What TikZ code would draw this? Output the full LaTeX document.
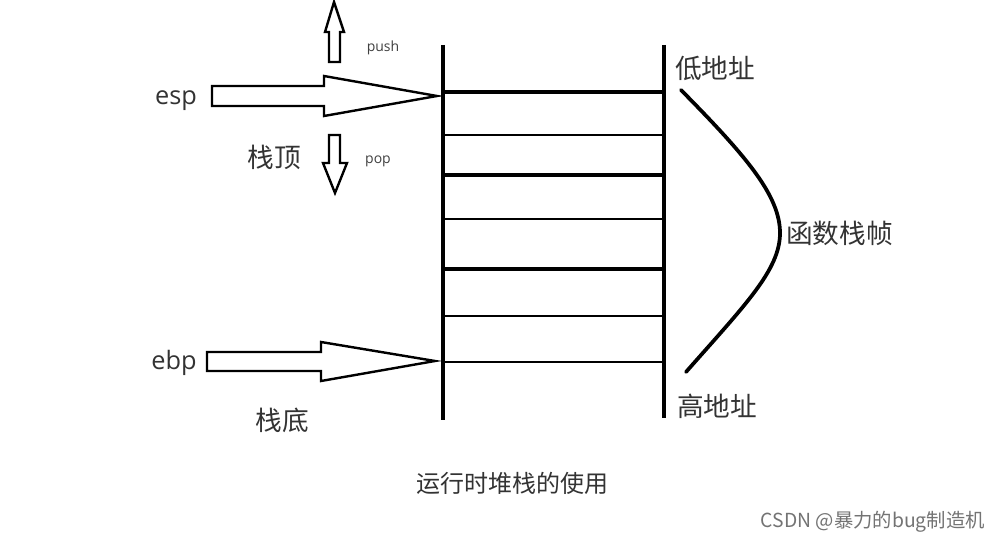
\documentclass[tikz,border=0pt]{standalone}
\usepackage{fontspec}
\setmainfont{Noto Sans CJK SC}
\newfontfamily\latinf{Open Sans}
\begin{document}
\begin{tikzpicture}[x=0.75pt,y=-0.75pt,
  txt/.style={text=black!80,inner sep=0pt,font=\fontsize{20}{24}\selectfont},
  small/.style={text=black!75,inner sep=0pt,font=\latinf\fontsize{10.5}{12}\selectfont},
  harrow/.style={line width=1.8pt,fill=white,line join=miter}]
\useasboundingbox[fill=white] (0,0) rectangle (998,541);
% stack walls
\coordinate (L0) at (443,45); \coordinate (L1) at (443,420);
\coordinate (R0) at (664,45); \coordinate (R1) at (664,418);
\draw[line width=2.8pt] (L0) -- (L1);
\draw[line width=2.8pt] (R0) -- (R1);
% slots
\foreach \y/\w in {92/2.6pt,135/1.8pt,175/2.6pt,219/1.8pt,269/2.8pt,316/1.8pt,362/1.8pt}
  \draw[line width=\w] (443,\y) -- (664,\y);
% esp arrow
\coordinate (esptip) at (437,96);
\draw[harrow] (212,86) -- (324,86) -- (324,76) -- (esptip) -- (324,116) -- (324,106) -- (212,106) -- cycle;
\node[txt,font=\latinf\fontsize{19}{24}\selectfont] (esp) at (176,101) {esp};
% ebp arrow
\coordinate (ebptip) at (435,361);
\draw[harrow] (207,352) -- (321,352) -- (321,342) -- (ebptip) -- (321,381) -- (321,371) -- (207,371) -- cycle;
\node[txt,font=\latinf\fontsize{19}{24}\selectfont] (ebp) at (174,363) {ebp};
% push arrow
\draw[harrow] (329,62) -- (329,32) -- (325,32) -- (334,2) -- (344,32) -- (340,32) -- (340,62) -- cycle;
\node[small] (push) at (383,48) {push};
% pop arrow
\draw[harrow] (329,135) -- (340,135) -- (340,163) -- (347,163) -- (335,193) -- (323,163) -- (329,163) -- cycle;
\node[small] (pop) at (378,161) {pop};
% labels
\node[txt] (top) at (274,157) {栈顶};
\node[txt] (bot) at (282,420) {栈底};
\node[txt] (low) at (715,68) {低地址};
\node[txt] (high) at (717,406) {高地址};
\node[txt,anchor=west] (frame) at (786,233) {函数栈帧};
% brace curve
\coordinate (c0) at (681,90);
\coordinate (c1) at (780,233);
\coordinate (c2) at (686,372);
\draw[line width=2.8pt,line cap=round] (c0) .. controls (745,155) and (780,195) .. (c1) .. controls (780,270) and (745,305) .. (c2);
\node[txt,font=\fontsize{18}{22}\selectfont] (title) at (512,483) {运行时堆栈的使用};
\node[inner sep=0pt,anchor=east,text=black!55,font=\fontsize{14.5}{17}\selectfont] (wm) at (985,522) {CSDN @暴力的bug制造机};
\end{tikzpicture}
\end{document}
